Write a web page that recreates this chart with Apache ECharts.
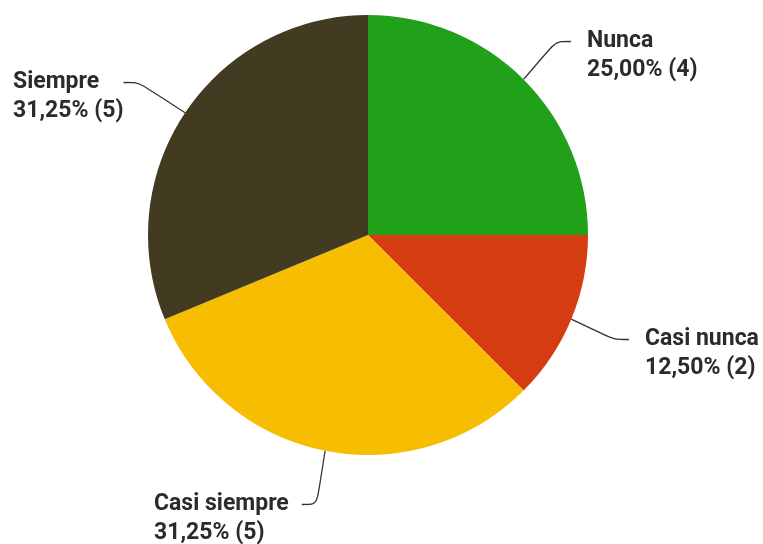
<!DOCTYPE html>
<html>
<head>
<meta charset="utf-8">
<script src="https://cdn.jsdelivr.net/npm/echarts@6/dist/echarts.min.js"></script>
<style>
  html, body { margin: 0; padding: 0; background: #fff; }
  #chart { width: 763px; height: 544px; }
</style>
</head>
<body>
<div id="chart"></div>
<script>
const categories = ['Nunca', 'Casi nunca', 'Casi siempre', 'Siempre']
const counts = [4, 2, 5, 5]
const colors = ['#21a019', '#d63c12', '#f7bd00', '#433b21']
// where each label block sits (left, top), gap and top padding included
const labelSpots = [[571, -2], [629, 296], [138, 461], [-3, 39]]

const total = counts.reduce((a, b) => a + b, 0)
const chart = echarts.init(document.getElementById('chart'))

chart.setOption({
  animation: false,
  color: colors,
  series: [{
    type: 'pie',
    center: [368, 235],
    radius: 220,
    startAngle: 90,
    clockwise: true,
    data: categories.map((name, i) => ({ name: name, value: counts[i] })),
    label: {
      show: true,
      position: 'outside',
      overflow: 'none',
      color: '#2b2b2b',
      fontFamily: 'Roboto',
      fontSize: 23,
      fontWeight: 'bold',
      lineHeight: 29,
      // top padding pulls the leader line up to the first text line
      padding: [29, 13, 0, 16],
      formatter: p => p.name + '\n' + (p.value / total * 100).toFixed(2).replace('.', ',') + '% (' + p.value + ')'
    },
    labelLine: {
      show: true,
      smooth: 0.3,
      length: 40,
      length2: 15,
      lineStyle: { color: '#333', width: 1.3 }
    },
    labelLayout: params => {
      const s = labelSpots[params.dataIndex]
      return { x: s[0], y: s[1], align: 'left', verticalAlign: 'top' }
    }
  }]
})
</script>
</body>
</html>
